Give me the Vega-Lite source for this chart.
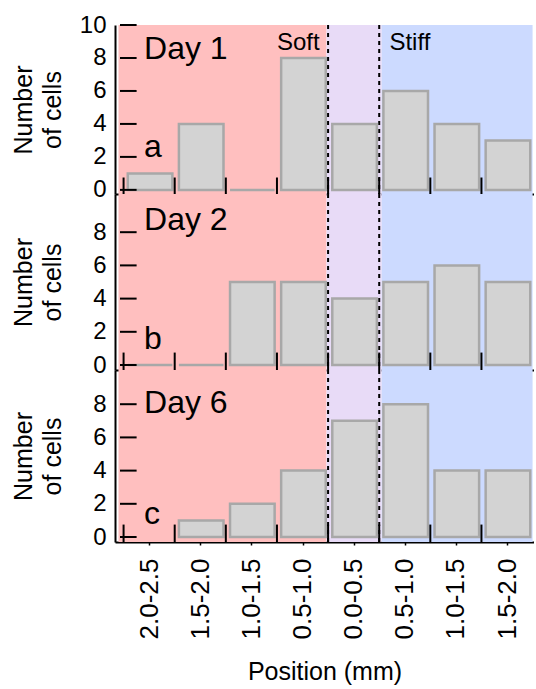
{
  "$schema": "https://vega.github.io/schema/vega-lite/v6.json",
  "background": "white",
  "padding": {"left": 10, "top": 13, "right": 0, "bottom": 0},
  "spacing": 0,
  "bounds": "flush",
  "config": {
    "font": "Liberation Sans",
    "view": {"stroke": null},
    "axis": {"grid": false, "domainColor": "black", "domainWidth": 2, "tickColor": "black", "labelColor": "black", "titleColor": "black", "titleFontWeight": "normal", "zindex": 1},
    "axisY": {"labelOverlap": false, "labelFlush": false, "ticks": false, "labelPadding": 9, "labelFontSize": 24, "titleFontSize": 25, "titleX": -84, "titleBaseline": "alphabetic", "titleLineHeight": 29}
  },
  "datasets": {
    "cells": [
      {"day": "Day 1", "bin": 0, "count": 1},
      {"day": "Day 1", "bin": 1, "count": 4},
      {"day": "Day 1", "bin": 2, "count": 0},
      {"day": "Day 1", "bin": 3, "count": 8},
      {"day": "Day 1", "bin": 4, "count": 4},
      {"day": "Day 1", "bin": 5, "count": 6},
      {"day": "Day 1", "bin": 6, "count": 4},
      {"day": "Day 1", "bin": 7, "count": 3},
      {"day": "Day 2", "bin": 0, "count": 0},
      {"day": "Day 2", "bin": 1, "count": 0},
      {"day": "Day 2", "bin": 2, "count": 5},
      {"day": "Day 2", "bin": 3, "count": 5},
      {"day": "Day 2", "bin": 4, "count": 4},
      {"day": "Day 2", "bin": 5, "count": 5},
      {"day": "Day 2", "bin": 6, "count": 6},
      {"day": "Day 2", "bin": 7, "count": 5},
      {"day": "Day 6", "bin": 0, "count": null},
      {"day": "Day 6", "bin": 1, "count": 1},
      {"day": "Day 6", "bin": 2, "count": 2},
      {"day": "Day 6", "bin": 3, "count": 4},
      {"day": "Day 6", "bin": 4, "count": 7},
      {"day": "Day 6", "bin": 5, "count": 8},
      {"day": "Day 6", "bin": 6, "count": 4},
      {"day": "Day 6", "bin": 7, "count": 4}
    ],
    "zones": [
      {"zone": "soft", "start": -0.1, "end": 3.97},
      {"zone": "mid", "start": 3.97, "end": 5.05},
      {"zone": "stiff", "start": 5.05, "end": 8}
    ],
    "dividers": [{"at": 4}, {"at": 5}],
    "yticks": [{"v": 0}, {"v": 2}, {"v": 4}, {"v": 6}, {"v": 8}, {"v": 10}]
  },
  "vconcat": [
    {
      "width": 419,
      "height": 169,
      "layer": [
        {
          "data": {"name": "zones"},
          "mark": {"type": "rect", "clip": true},
          "encoding": {
            "x": {"field": "start", "type": "quantitative", "scale": {"domain": [-0.07, 7.93], "nice": false, "zero": false},
                  "axis": {"values": [0.5, 1.5, 2.5, 3.5, 4.5, 5.5, 6.5, 7.5], "labels": false, "title": null, "tickSize": 3, "tickWidth": 1.5}},
            "x2": {"field": "end"},
            "y": {"datum": -1, "type": "quantitative", "scale": {"domain": [-0.25, 10], "nice": false, "zero": false},
                  "axis": {"values": [0, 2, 4, 6, 8, 10], "title": ["Number", "of cells"], "labelOverlap": false}},
            "y2": {"datum": 11},
            "color": {"field": "zone", "type": "nominal", "scale": {"domain": ["soft", "mid", "stiff"], "range": ["#ffbfbf", "#e8dbf7", "#ccdaff"]}, "legend": null}
          }
        },
        {
          "data": {"name": "dividers"},
          "mark": {"type": "rule", "strokeDash": [4, 4], "strokeWidth": 2, "color": "black"},
          "encoding": {"x": {"field": "at", "type": "quantitative"}}
        },
        {
          "data": {"name": "cells"},
          "transform": [{"filter": "datum.day === 'Day 1'"}],
          "mark": {"type": "bar", "width": 44.6, "xOffset": 26.5, "fill": "#d3d3d3", "stroke": "#a8a8a8", "strokeWidth": 2.5, "clip": true},
          "encoding": {"x": {"field": "bin", "type": "quantitative"}, "y": {"field": "count", "type": "quantitative", "axis": {"values": [0, 2, 4, 6, 8, 10], "title": ["Number", "of cells"], "labelOverlap": false}}, "y2": {"datum": 0}}
        },
        {
          "data": {"name": "cells"},
          "transform": [{"filter": "datum.day === 'Day 1'"}],
          "mark": {"type": "rule", "strokeWidth": 2, "color": "black"},
          "encoding": {"x": {"field": "bin", "type": "quantitative"}, "y": {"datum": -0.25, "axis": {"values": [0, 2, 4, 6, 8, 10], "title": ["Number", "of cells"], "labelOverlap": false}}, "y2": {"datum": 0.75}}
        },
        {
          "data": {"name": "yticks"},
          "mark": {"type": "rule", "strokeWidth": 2, "color": "black"},
          "encoding": {"y": {"field": "v", "type": "quantitative", "axis": {"values": [0, 2, 4, 6, 8, 10], "title": ["Number", "of cells"], "labelOverlap": false}}, "x": {"datum": -0.07}, "x2": {"datum": 0.255}}
        },
        {
          "data": {"values": [{"note": "Day 1"}]},
          "mark": {"type": "text", "align": "left", "baseline": "alphabetic", "fontSize": 32, "color": "black"},
          "encoding": {"text": {"field": "note"}, "x": {"datum": 0.4}, "y": {"datum": 7.95, "axis": {"values": [0, 2, 4, 6, 8, 10], "title": ["Number", "of cells"], "labelOverlap": false}}}
        },
        {
          "data": {"values": [{"note": "a"}]},
          "mark": {"type": "text", "align": "left", "baseline": "alphabetic", "fontSize": 32, "color": "black"},
          "encoding": {"text": {"field": "note"}, "x": {"datum": 0.4}, "y": {"datum": 2.0, "axis": {"values": [0, 2, 4, 6, 8, 10], "title": ["Number", "of cells"], "labelOverlap": false}}}
        },
        {
          "data": {"values": [{"note": "Soft"}]},
          "mark": {"type": "text", "align": "left", "baseline": "alphabetic", "fontSize": 24, "color": "black"},
          "encoding": {"text": {"field": "note"}, "x": {"datum": 3.0}, "y": {"datum": 8.5, "axis": {"values": [0, 2, 4, 6, 8, 10], "title": ["Number", "of cells"], "labelOverlap": false}}}
        },
        {
          "data": {"values": [{"note": "Stiff"}]},
          "mark": {"type": "text", "align": "left", "baseline": "alphabetic", "fontSize": 24, "color": "black"},
          "encoding": {"text": {"field": "note"}, "x": {"datum": 5.2}, "y": {"datum": 8.5, "axis": {"values": [0, 2, 4, 6, 8, 10], "title": ["Number", "of cells"], "labelOverlap": false}}}
        }
      ]
    },
    {
      "width": 419,
      "height": 176,
      "layer": [
        {
          "data": {"name": "zones"},
          "mark": {"type": "rect", "clip": true},
          "encoding": {
            "x": {"field": "start", "type": "quantitative", "scale": {"domain": [-0.07, 7.93], "nice": false, "zero": false},
                  "axis": {"values": [0.5, 1.5, 2.5, 3.5, 4.5, 5.5, 6.5, 7.5], "labels": false, "title": null, "tickSize": 3, "tickWidth": 1.5}},
            "x2": {"field": "end"},
            "y": {"datum": -1, "type": "quantitative", "scale": {"domain": [-0.3, 10.3], "nice": false, "zero": false},
                  "axis": {"values": [0, 2, 4, 6, 8], "title": ["Number", "of cells"], "labelOverlap": false}},
            "y2": {"datum": 11},
            "color": {"field": "zone", "type": "nominal", "scale": {"domain": ["soft", "mid", "stiff"], "range": ["#ffbfbf", "#e8dbf7", "#ccdaff"]}, "legend": null}
          }
        },
        {
          "data": {"name": "dividers"},
          "mark": {"type": "rule", "strokeDash": [4, 4], "strokeWidth": 2, "color": "black"},
          "encoding": {"x": {"field": "at", "type": "quantitative"}}
        },
        {
          "data": {"name": "cells"},
          "transform": [{"filter": "datum.day === 'Day 2'"}],
          "mark": {"type": "bar", "width": 44.6, "xOffset": 26.5, "fill": "#d3d3d3", "stroke": "#a8a8a8", "strokeWidth": 2.5, "clip": true},
          "encoding": {"x": {"field": "bin", "type": "quantitative"}, "y": {"field": "count", "type": "quantitative"}, "y2": {"datum": 0}}
        },
        {
          "data": {"name": "cells"},
          "transform": [{"filter": "datum.day === 'Day 2'"}],
          "mark": {"type": "rule", "strokeWidth": 2, "color": "black"},
          "encoding": {"x": {"field": "bin", "type": "quantitative"}, "y": {"datum": -0.3}, "y2": {"datum": 0.75}}
        },
        {
          "data": {"name": "yticks"},
          "transform": [{"filter": "datum.v <= 8"}],
          "mark": {"type": "rule", "strokeWidth": 2, "color": "black"},
          "encoding": {"y": {"field": "v", "type": "quantitative"}, "x": {"datum": -0.07}, "x2": {"datum": 0.255}}
        },
        {
          "data": {"values": [{"note": "Day 2"}]},
          "mark": {"type": "text", "align": "left", "baseline": "alphabetic", "fontSize": 32, "color": "black"},
          "encoding": {"text": {"field": "note"}, "x": {"datum": 0.4}, "y": {"datum": 8.13}}
        },
        {
          "data": {"values": [{"note": "b"}]},
          "mark": {"type": "text", "align": "left", "baseline": "alphabetic", "fontSize": 32, "color": "black"},
          "encoding": {"text": {"field": "note"}, "x": {"datum": 0.4}, "y": {"datum": 0.96}}
        }
      ]
    },
    {
      "width": 419,
      "height": 172,
      "layer": [
        {
          "data": {"name": "zones"},
          "mark": {"type": "rect", "clip": true},
          "encoding": {
            "x": {"field": "start", "type": "quantitative", "scale": {"domain": [-0.07, 7.93], "nice": false, "zero": false},
                  "axis": {"values": [0.5, 1.5, 2.5, 3.5, 4.5, 5.5, 6.5, 7.5], "labels": true, "labelAngle": -90, "labelFontSize": 26, "labelPadding": 13, "labelFlush": false, "labelOverlap": false,
                           "labelExpr": "['2.0-2.5','1.5-2.0','1.0-1.5','0.5-1.0','0.0-0.5','0.5-1.0','1.0-1.5','1.5-2.0'][floor(datum.value)]",
                           "title": "Position (mm)", "titleFontSize": 25, "titlePadding": 21, "tickSize": 3, "tickWidth": 1.5}},
            "x2": {"field": "end"},
            "y": {"datum": -1, "type": "quantitative", "scale": {"domain": [-0.3, 10.06], "nice": false, "zero": false},
                  "axis": {"values": [0, 2, 4, 6, 8], "title": ["Number", "of cells"], "labelOverlap": false}},
            "y2": {"datum": 11},
            "color": {"field": "zone", "type": "nominal", "scale": {"domain": ["soft", "mid", "stiff"], "range": ["#ffbfbf", "#e8dbf7", "#ccdaff"]}, "legend": null}
          }
        },
        {
          "data": {"name": "dividers"},
          "mark": {"type": "rule", "strokeDash": [4, 4], "strokeWidth": 2, "color": "black"},
          "encoding": {"x": {"field": "at", "type": "quantitative"}}
        },
        {
          "data": {"name": "cells"},
          "transform": [{"filter": "datum.day === 'Day 6'"}],
          "mark": {"type": "bar", "width": 44.6, "xOffset": 26.5, "fill": "#d3d3d3", "stroke": "#a8a8a8", "strokeWidth": 2.5, "clip": true},
          "encoding": {"x": {"field": "bin", "type": "quantitative"}, "y": {"field": "count", "type": "quantitative"}, "y2": {"datum": 0}}
        },
        {
          "data": {"name": "cells"},
          "transform": [{"filter": "datum.day === 'Day 6'"}],
          "mark": {"type": "rule", "strokeWidth": 2, "color": "black"},
          "encoding": {"x": {"field": "bin", "type": "quantitative"}, "y": {"datum": -0.3}, "y2": {"datum": 0.75}}
        },
        {
          "data": {"name": "yticks"},
          "transform": [{"filter": "datum.v <= 8"}],
          "mark": {"type": "rule", "strokeWidth": 2, "color": "black"},
          "encoding": {"y": {"field": "v", "type": "quantitative"}, "x": {"datum": -0.07}, "x2": {"datum": 0.255}}
        },
        {
          "data": {"values": [{"note": "Day 6"}]},
          "mark": {"type": "text", "align": "left", "baseline": "alphabetic", "fontSize": 32, "color": "black"},
          "encoding": {"text": {"field": "note"}, "x": {"datum": 0.4}, "y": {"datum": 7.47}}
        },
        {
          "data": {"values": [{"note": "c"}]},
          "mark": {"type": "text", "align": "left", "baseline": "alphabetic", "fontSize": 32, "color": "black"},
          "encoding": {"text": {"field": "note"}, "x": {"datum": 0.4}, "y": {"datum": 0.8}}
        }
      ]
    }
  ]
}
